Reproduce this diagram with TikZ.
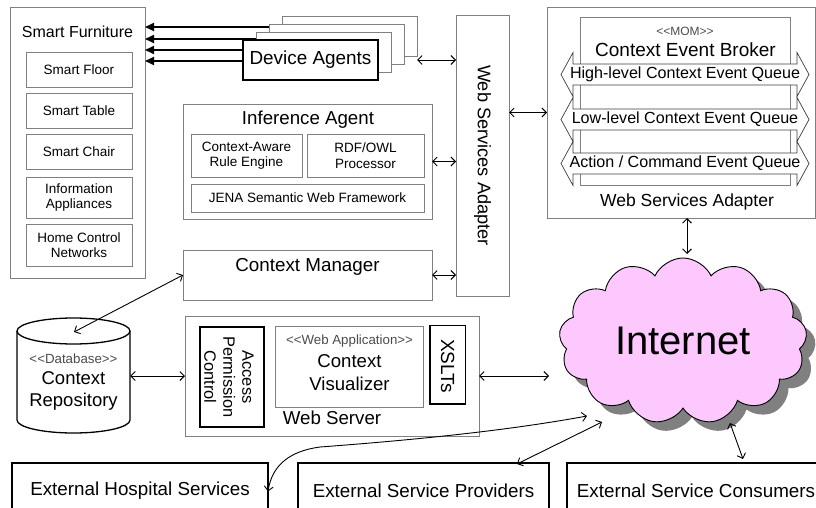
\documentclass[tikz,border=0pt]{standalone}
\usepackage{fontspec}
\setmainfont{Liberation Sans}
\usetikzlibrary{arrows.meta,shapes.symbols,calc}
\definecolor{bx}{RGB}{128,128,128}
\definecolor{pinkc}{RGB}{253,200,253}
\newcommand\fz[2]{\fontsize{#1}{#2}\selectfont}
\begin{document}
\begin{tikzpicture}[x=1pt,y=-1pt,
  gbox/.style={draw=bx,line width=0.8pt,fill=white,inner sep=0pt,outer sep=0pt,align=center},
  tbox/.style={draw=black,line width=1.6pt,fill=white,inner sep=0pt,outer sep=0pt,align=center},
  txt/.style={inner sep=0pt,align=center},
  conn/.style={<->,>={Straight Barb[length=4.5pt,width=9pt]},line width=0.9pt},
  sfarr/.style={->,>={Triangle[length=9pt,width=8pt]},line width=1.8pt},
  qarr/.style={draw=black!75,line width=0.7pt,fill=white},
  cloudshape/.style={cloud,cloud puffs=13,cloud puff arc=130,cloud ignores aspect,minimum width=248pt,minimum height=166pt}]
\useasboundingbox (0,0) rectangle (816,508);
\clip (0,0) rectangle (816,508);

% ---------- Smart Furniture ----------
\node[gbox,minimum width=135pt,minimum height=271pt] (sf) at (77.5,142.5) {};
\node[txt,font=\fz{16pt}{18pt}] (sftitle) at (77.5,32) {Smart Furniture};
\begin{scope}[every node/.style={gbox,minimum width=106pt,font=\fz{13.5pt}{15.5pt}}]
\node[minimum height=35pt] (floor) at (79,69.5) {Smart Floor};
\node[minimum height=35pt] (table) at (79,110.5) {Smart Table};
\node[minimum height=35pt] (chair) at (79,151.5) {Smart Chair};
\node[minimum height=41pt] (info) at (79,197.5) {Information\\Appliances};
\node[minimum height=42pt] (home) at (79,245) {Home Control\\Networks};
\end{scope}

% ---------- Device Agents stack ----------
\node[gbox,minimum width=135pt,minimum height=40pt] (da3) at (349.5,36) {};
\node[gbox,minimum width=135pt,minimum height=40pt] (da2) at (336.5,44) {};
\node[gbox,minimum width=135pt,minimum height=40pt] (da1) at (323.5,52) {};
\node[tbox,minimum width=135pt,minimum height=40pt,font=\fz{18.9pt}{22pt}] (da) at (310.5,60) {Device Agents};

\coordinate (s1) at ($(da2.north west)+(0,3)$);
\coordinate (s2) at ($(da1.north west)+(0,7)$);
\coordinate (s3) at ($(da.west)+(0,-10)$);
\coordinate (s4) at ($(da.west)+(0,1)$);
\draw[sfarr] (s1) -- (sf.east |- s1);
\draw[sfarr] (s2) -- (sf.east |- s2);
\draw[sfarr] (s3) -- (sf.east |- s3);
\draw[sfarr] (s4) -- (sf.east |- s4);

% ---------- Web Services Adapter (left) ----------
\node[gbox,minimum width=53pt,minimum height=281pt] (wsa) at (482.5,155.5) {};
\node[txt,rotate=-90,font=\fz{18.2pt}{21pt}] (wsatxt) at (482.5,155.5) {Web Services Adapter};

% ---------- Inference Agent ----------
\node[gbox,minimum width=249pt,minimum height=115pt] (ia) at (307.5,161.5) {};
\node[txt,font=\fz{18.7pt}{21pt}] (iatitle) at (308,120) {Inference Agent};
\begin{scope}[every node/.style={gbox,font=\fz{13.5pt}{15.5pt}}]
\node[minimum width=111pt,minimum height=43pt] (rule) at (246.5,155.5) {Context-Aware\\Rule Engine};
\node[minimum width=117pt,minimum height=43pt] (rdf) at (365.5,155.5) {RDF/OWL\\Processor};
\node[minimum width=233pt,minimum height=28pt] (jena) at (307.5,198) {JENA Semantic Web Framework};
\end{scope}

% ---------- Context Manager ----------
\node[gbox,minimum width=249pt,minimum height=50pt] (cm) at (307.5,275) {};
\node[txt,font=\fz{18.8pt}{21pt}] (cmtxt) at (307.5,267) {Context Manager};

% ---------- Database ----------
\node[inner sep=0pt,minimum width=113pt,minimum height=115pt] (db) at (73.5,375.5) {};
\fill[white] (17,331) -- (17,420) arc[start angle=180,end angle=360,x radius=56.5pt,y radius=13pt] -- (130,331) -- cycle;
\draw[line width=1.3pt] (17,331) -- (17,420) arc[start angle=180,end angle=360,x radius=56.5pt,y radius=13pt] -- (130,331);
\draw[line width=1.3pt,fill=white] (73.5,331) ellipse[x radius=56.5pt,y radius=13pt];
\node[txt,font=\fz{13.3pt}{15pt},text=black!70] (dbst) at (73.5,359) {<{}<Database>{}>};
\node[txt,font=\fz{18.5pt}{22pt}] (dbtxt) at (73.5,391) {Context\\Repository};
\coordinate (dbtop) at (74,332);

% ---------- Web Server ----------
\node[gbox,minimum width=294pt,minimum height=120pt] (ws) at (332,376) {};
\node[tbox,minimum width=64pt,minimum height=100pt] (apc) at (232,377) {};
\node[txt,rotate=-90,font=\fz{16.4pt}{19pt}] (apctxt) at (229,377) {Access\\Permission\\Control};
\node[gbox,minimum width=148pt,minimum height=80.5pt] (cv) at (349.5,366.75) {};
\node[txt,font=\fz{13.3pt}{15pt},text=black!70] (cvst) at (349.5,341) {<{}<Web Application>{}>};
\node[txt,font=\fz{18.6pt}{23pt}] (cvtxt) at (349.5,372.5) {Context\\Visualizer};
\node[tbox,minimum width=35.5pt,minimum height=78.5pt] (xslt) at (447.75,364.75) {};
\node[txt,rotate=-90,font=\fz{19pt}{22pt}] (xslttxt) at (447.75,366) {XSLTs};
\node[txt,font=\fz{18.7pt}{21pt}] (wstxt) at (332,418) {Web Server};

% ---------- MOM / right Web Services Adapter ----------
\node[gbox,minimum width=268pt,minimum height=211pt] (mom) at (681,112.5) {};
\node[gbox,minimum width=210pt,minimum height=168pt] (brk) at (685,101) {};
\node[txt,font=\fz{12pt}{14pt},text=black!70] (momst) at (685,31) {<{}<MOM>{}>};
\node[txt,font=\fz{19pt}{22pt}] (brktxt) at (685.5,50) {Context Event Broker};
\foreach \cy in {74.5,119.5,163.5}{
  \draw[qarr] (561,\cy) -- ++(12,-22) -- ++(0,11.5) -- ++(224,0) -- ++(0,-11.5)
    -- ++(12,22) -- ++(-12,22) -- ++(0,-11.5) -- ++(-224,0) -- ++(0,11.5) -- cycle;
}
\node[txt,font=\fz{16.1pt}{18pt}] (q1) at (685,74) {High-level Context Event Queue};
\node[txt,font=\fz{16.1pt}{18pt}] (q2) at (685,119) {Low-level Context Event Queue};
\node[txt,font=\fz{16.1pt}{18pt}] (q3) at (685,163) {Action / Command Event Queue};
\node[txt,font=\fz{17.5pt}{20pt}] (momtxt) at (687,202) {Web Services Adapter};

% ---------- Internet cloud ----------
\node[cloudshape,fill=black!50,draw=none] (shadow) at (692,350) {};
\node[cloudshape,fill=pinkc,draw=black,line width=0.9pt,inner sep=0pt,font=\fz{40pt}{44pt}] (inet) at (683,341) {Internet};
\coordinate (inetN) at (687,254);
\coordinate (inetW) at (549,376);
\coordinate (inetA) at (587,416);
\coordinate (inetB) at (602,422);
\coordinate (inetC) at (730,423);

% ---------- External services ----------
\node[tbox,line width=1.3pt,minimum width=256pt,minimum height=57pt] (hosp) at (140,491.5) {};
\node[txt,font=\fz{18.8pt}{21pt}] (hosptxt) at (140,491) {External Hospital Services};
\node[tbox,line width=1.3pt,minimum width=251pt,minimum height=57pt] (prov) at (423.5,491.5) {};
\node[txt,font=\fz{18.8pt}{21pt}] (provtxt) at (423.5,491) {External Service Providers};
\node[tbox,line width=1.3pt,minimum width=263pt,minimum height=57pt] (cons) at (698.5,491.5) {};
\node[txt,font=\fz{18.8pt}{21pt}] (constxt) at (696,491) {External Service Consumers};
\coordinate (provNE) at ($(prov.north east)+(-32,1)$);
\coordinate (consN) at ($(cons.north west)+(176,-4)$);

% ---------- Connectors ----------
\draw[conn] (da3.east |- da.center) -- (wsa.west |- da.center);
\draw[conn] (ia.east) -- (wsa.west |- ia.east);
\draw[conn] (cm.east) -- (wsa.west |- cm.east);
\draw[conn] (wsa.east |- mom.west) -- (mom.west);
\draw[conn] (inetN |- mom.south) -- (inetN);
\draw[conn] (cm.west) -- (dbtop);
\draw[conn] (db.east |- ws.west) -- (ws.west);
\draw[conn] (ws.east) -- (inetW);
\draw[conn] (inetA) .. controls (500,432) and (400,441) .. (320,447)
               .. controls (290,451) and (272,465) .. (hosp.east);
\draw[conn] (inetB) -- (provNE);
\draw[conn] (inetC) -- (consN);
\end{tikzpicture}
\end{document}
